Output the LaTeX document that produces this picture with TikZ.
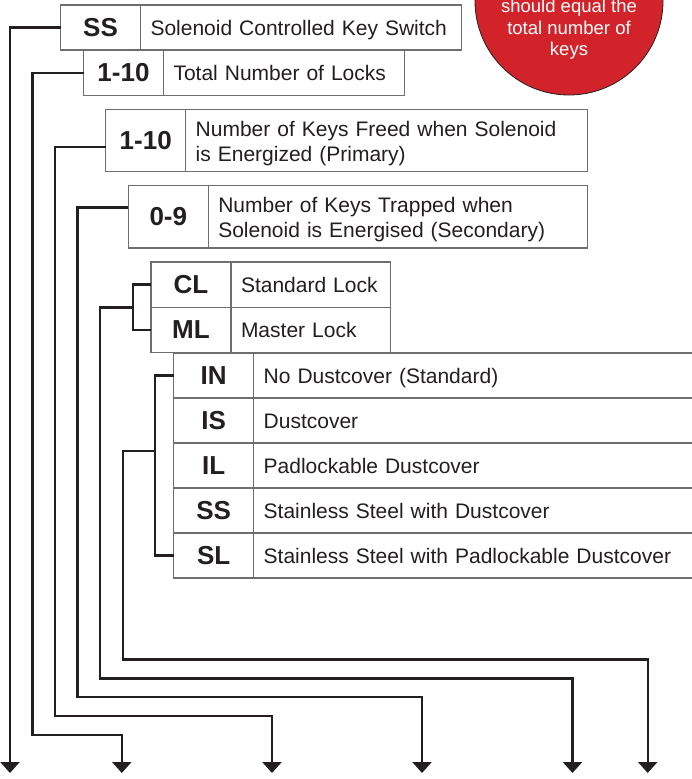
\documentclass[tikz,border=0pt]{standalone}
\usepackage{fontspec}
\setmainfont{Liberation Sans}
\usetikzlibrary{arrows.meta,calc}
\definecolor{linecol}{HTML}{231F20}
\definecolor{boxgray}{HTML}{6D6E71}
\definecolor{notered}{HTML}{D2232A}
\newcommand{\firstlinestrut}{\rule{0pt}{21.6pt}}
\begin{document}
\begin{tikzpicture}[x=1pt,y=-1pt,
  codebox/.style={draw=boxgray, line width=1.1pt, fill=white, anchor=north west, outer sep=0pt,
    inner sep=0pt, minimum width=80pt, font=\fontsize{26}{30}\selectfont\bfseries, text=linecol},
  descbox/.style={draw=boxgray, line width=1.1pt, fill=white, anchor=north west, outer sep=0pt,
    inner xsep=10pt, inner ysep=0pt, align=left, font=\fontsize{21}{25}\selectfont, text=linecol},
  oneline/.style={text height=15.2pt, text depth=0pt},
  conn/.style={draw=linecol, line width=2.4pt, -{Triangle[width=19pt,length=11pt]}},
  bracketline/.style={draw=linecol, line width=2.4pt},
  notetext/.style={text=white, font=\fontsize{18.5}{21}\selectfont, anchor=base, inner sep=0pt}]
\useasboundingbox (0,0) rectangle (691,779);

% red note
\node[circle, draw=linecol, line width=0.8pt, fill=notered, minimum size=188pt, inner sep=0pt] (note) at (569,1) {};
\node[notetext] (nt1) at (569,12.7) {should equal the};
\node[notetext] (nt2) at (569,34) {total number of};
\node[notetext] (nt3) at (569,55.3) {keys};

% boxes
\node[codebox, minimum height=45pt] (ssc) at (60.5,5) {SS};
\node[descbox, oneline, minimum height=45pt, text width=301pt] (ssd) at (ssc.north east) {Solenoid Controlled Key Switch};

\node[codebox, minimum height=45pt] (lkc) at (83.5,50.5) {1-10};
\node[descbox, oneline, minimum height=45pt, text width=221pt] (lkd) at (lkc.north east) {Total Number of Locks};

\node[codebox, minimum height=62.4pt] (prc) at (105.7,109.3) {1-10};
\node[descbox, minimum height=62.4pt, text width=381.8pt] (prd) at (prc.north east) {\firstlinestrut Number of Keys Freed when Solenoid\\is Energized (Primary)};

\node[codebox, minimum height=62.3pt] (zrc) at (128.3,185.7) {0-9};
\node[descbox, minimum height=62.3pt, text width=359.2pt] (zrd) at (zrc.north east) {\firstlinestrut Number of Keys Trapped when\\Solenoid is Energised (Secondary)};

\node[codebox, minimum height=45.3pt] (clc) at (151,262) {CL};
\node[descbox, oneline, minimum height=45.3pt, text width=139.5pt] (cld) at (clc.north east) {Standard Lock};
\node[codebox, minimum height=45.3pt] (mlc) at (clc.south west) {ML};
\node[descbox, oneline, minimum height=45.3pt, text width=139.5pt] (mld) at (mlc.north east) {Master Lock};

\node[codebox, minimum height=45pt] (inc) at (173.7,353) {IN};
\node[descbox, oneline, minimum height=45pt, text width=440pt] (ind) at (inc.north east) {No Dustcover (Standard)};
\node[codebox, minimum height=45pt] (isc) at (inc.south west) {IS};
\node[descbox, oneline, minimum height=45pt, text width=440pt] (isd) at (isc.north east) {Dustcover};
\node[codebox, minimum height=45pt] (ilc) at (isc.south west) {IL};
\node[descbox, oneline, minimum height=45pt, text width=440pt] (ild) at (ilc.north east) {Padlockable Dustcover};
\node[codebox, minimum height=45pt] (sscc) at (ilc.south west) {SS};
\node[descbox, oneline, minimum height=45pt, text width=440pt] (sscd) at (sscc.north east) {Stainless Steel with Dustcover};
\node[codebox, minimum height=45pt] (slc) at (sscc.south west) {SL};
\node[descbox, oneline, minimum height=45pt, text width=440pt] (sld) at (slc.north east) {Stainless Steel with Padlockable Dustcover};

% coordinates
\coordinate (e1) at (10,773);
\coordinate (e2) at (121.8,773);
\coordinate (e3) at (272,773);
\coordinate (e4) at (422,773);
\coordinate (e5) at (572.5,773);
\coordinate (e6) at (647.7,773);
\coordinate (b2) at (32.3,735);
\coordinate (b3) at (55,716);
\coordinate (b4) at (77.5,697);
\coordinate (b5) at (100,678.3);
\coordinate (b6) at (123,659.3);
\coordinate (k5) at (132.7,307.3);
\coordinate (k6) at (155,451);

% connectors
\draw[conn] (ssc.west) -| (e1);
\draw[conn] (lkc.west) -| (b2) -| (e2);
\draw[conn] ($(prc.west)+(0,6.5)$) -| (b3) -| (e3);
\draw[conn] ($(zrc.west)+(0,-9.3)$) -| (b4) -| (e4);
\draw[bracketline] (clc.west) -| (k5) |- (mlc.west);
\draw[conn] (k5) -| (b5) -| (e5);
\draw[bracketline] (inc.west) -| (k6) |- (slc.west);
\draw[conn] (k6) -| (b6) -| (e6);
\end{tikzpicture}
\end{document}
